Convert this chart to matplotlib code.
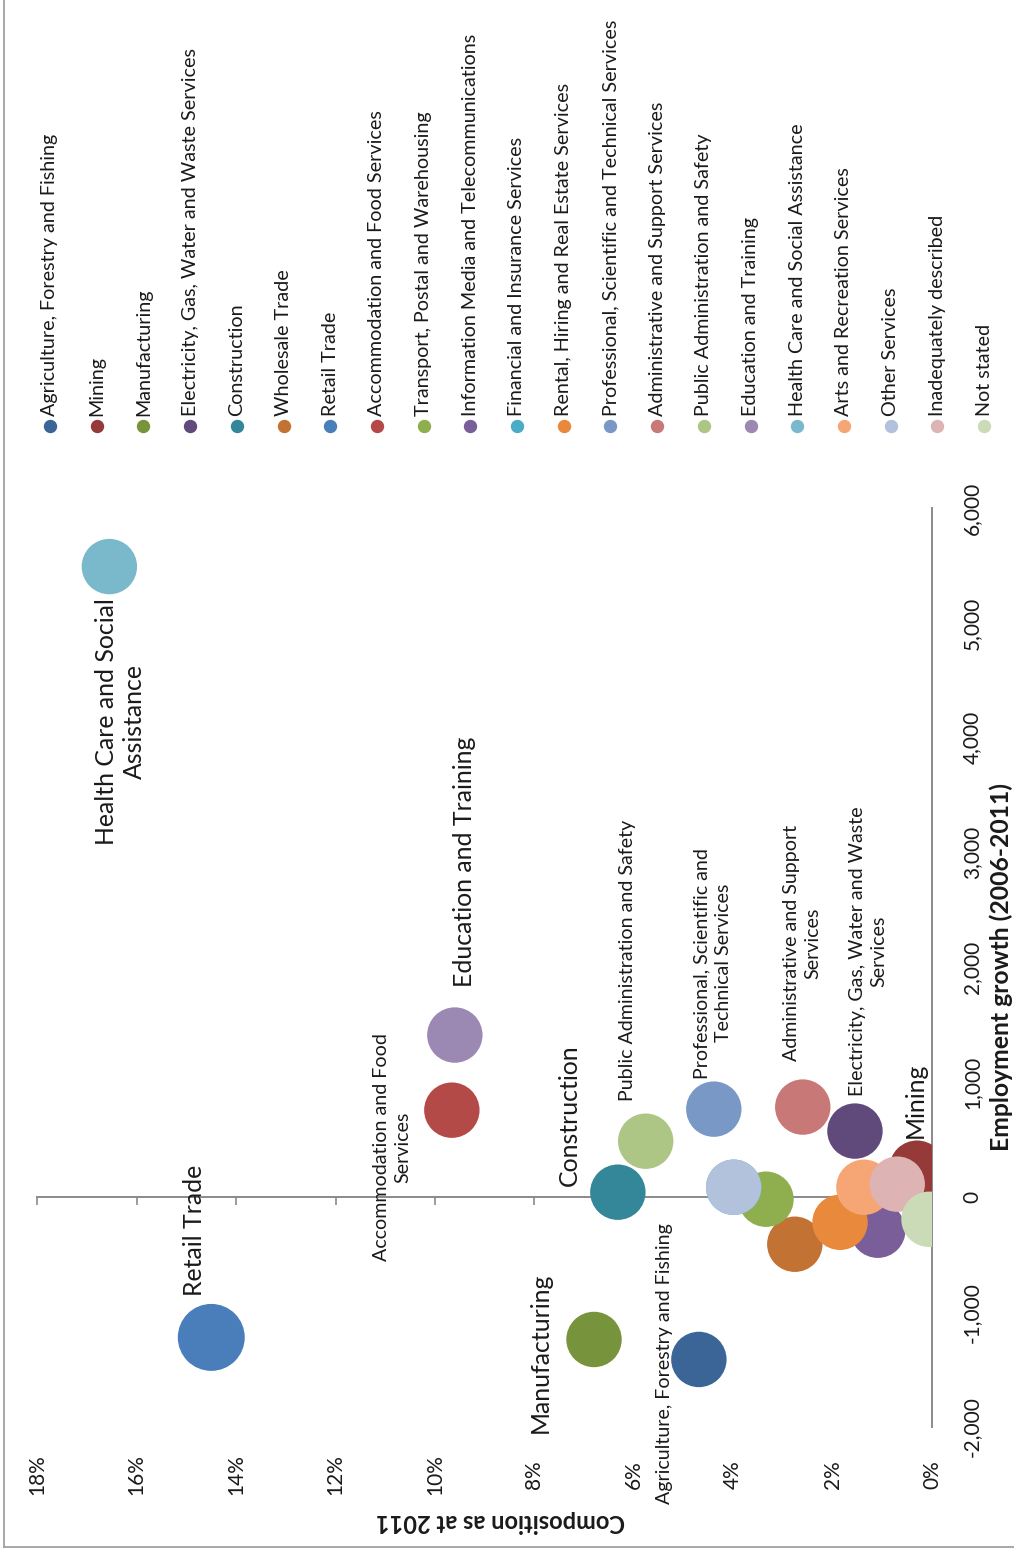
import matplotlib
matplotlib.use("Agg")
import matplotlib.pyplot as plt
import matplotlib.transforms as mtrans
from matplotlib.lines import Line2D

plt.rcParams['font.family'] = ['Lato', 'DejaVu Sans']

# ---------------- data ----------------
industries = [
    "Agriculture, Forestry and Fishing", "Mining", "Manufacturing",
    "Electricity, Gas, Water and Waste Services", "Construction",
    "Wholesale Trade", "Retail Trade", "Accommodation and Food Services",
    "Transport, Postal and Warehousing", "Information Media and Telecommunications",
    "Financial and Insurance Services", "Rental, Hiring and Real Estate Services",
    "Professional, Scientific and Technical Services",
    "Administrative and Support Services", "Public Administration and Safety",
    "Education and Training", "Health Care and Social Assistance",
    "Arts and Recreation Services", "Other Services", "Inadequately described",
    "Not stated",
]
composition = [4.69, 0.30, 6.80, 1.55, 6.32, 2.76, 14.50, 9.66, 3.34, 1.09,
               3.99, 1.85, 4.39, 2.60, 5.76, 9.60, 16.55, 1.37, 3.99, 0.70, 0.06]
growth = [-1412, 253, -1238, 576, 44, -409, -1220, 758, -17, -287,
          87, -218, 767, 785, 488, 1412, 5490, 87, 87, 114, -192]
bubble_size = [100, 100, 100, 100, 100, 100, 146, 100, 100, 100,
               100, 100, 100, 100, 100, 100, 100, 100, 100, 100, 100]
colors = ["#3A6596", "#953A38", "#77933C", "#604A7B", "#348699", "#C27232",
          "#4A7EBB", "#B44A47", "#8FAE4E", "#7A5E9A", "#4BACC6", "#E8893C",
          "#7A98C6", "#C87876", "#ADC585", "#9B89B3", "#7AB9CC", "#F6A674",
          "#B2C1DC", "#DDB3B3", "#CCDBB7"]

comp_ticks = [0, 2, 4, 6, 8, 10, 12, 14, 16, 18]
comp_labels = ["0%", "2%", "4%", "6%", "8%", "10%", "12%", "14%", "16%", "18%"]
growth_ticks = [-2000, -1000, 0, 1000, 2000, 3000, 4000, 5000, 6000]
growth_labels = ["-2,000", "-1,000", "0", "1,000", "2,000", "3,000", "4,000", "5,000", "6,000"]

x_title = "Composition as at 2011"
y_title = "Employment growth (2006-2011)"

# label text, style, offset (px right, px down) from bubble centre
bubble_labels = {
    16: ("Health Care and Social\nAssistance", "big", 11, 155),
    6: ("Retail Trade", "big", -17, -107),
    15: ("Education and Training", "big", 10, -173),
    7: ("Accommodation and Food\nServices", "small", -60, 37),
    4: ("Construction", "big", -48, -77),
    2: ("Manufacturing", "big", -54, 13),
    0: ("Agriculture, Forestry and Fishing", "small", -34, 4),
    14: ("Public Administration and Safety", "small", -18, -181),
    12: ("Professional, Scientific and\nTechnical Services", "small", -1, -146),
    13: ("Administrative and Support\nServices", "small", -1, -164),
    3: ("Electricity, Gas, Water and Waste\nServices", "small", 13, -180),
    1: ("Mining", "big", -2, -68),
}

# ---------------- figure ----------------
W, H = 1014, 1557
fig = plt.figure(figsize=(W / 100, H / 100), dpi=100)


def fx(px):
    return px / W


def fy(py):
    return 1 - py / H


ax_l, ax_r, ax_t, ax_b = 37.3, 932.0, 508.0, 1427.0
ax = fig.add_axes([fx(ax_l), fy(ax_b), (ax_r - ax_l) / W, (ax_b - ax_t) / H])
ax.set_xlim(18, 0)
ax.set_ylim(-2000, 6000)
ax.patch.set_alpha(0)

axis_grey = "#8A8A8A"
for s in ["left", "top"]:
    ax.spines[s].set_visible(False)
ax.spines["bottom"].set_position(("data", 0))
ax.spines["bottom"].set_color(axis_grey)
ax.spines["bottom"].set_linewidth(1.4)
ax.spines["right"].set_color(axis_grey)
ax.spines["right"].set_linewidth(1.4)
ax.set_xticks(comp_ticks)
ax.tick_params(axis="x", direction="out", length=6, width=1.2, color=axis_grey,
               labelbottom=False)
ax.set_yticks([])

# bubbles
base = 1592.0 / 100.0
for i in range(len(industries)):
    ax.scatter([composition[i]], [growth[i]], s=bubble_size[i] * base,
               color=colors[i], edgecolors="none", zorder=3 + i * 0.01)

# bubble labels
for i, (txt, style, dx, dy) in bubble_labels.items():
    ax.annotate(txt, xy=(composition[i], growth[i]), xytext=(dx, -dy),
                textcoords="offset pixels", rotation=90, ha="center",
                va="center", multialignment="center", linespacing=1.3,
                fontsize=17.9 if style == "big" else 14.1, color="#1A1A1A",
                zorder=10)

# tick labels
tr_x = mtrans.blended_transform_factory(ax.transData, fig.transFigure)
for t, lab in zip(comp_ticks, comp_labels):
    ax.text(t, fy(1475), lab, transform=tr_x, rotation=90, ha="center",
            va="center", fontsize=15, color="#1A1A1A")
tr_y = mtrans.blended_transform_factory(fig.transFigure, ax.transData)
for t, lab in zip(growth_ticks, growth_labels):
    ax.text(fx(972), t, lab, transform=tr_y, rotation=90, ha="center",
            va="center", fontsize=15, color="#1A1A1A")

# axis titles
fig.text(fx(500), fy(1522), x_title, rotation=180, ha="center", va="center",
         fontsize=17.0, fontweight="bold", color="#1A1A1A")
fig.text(fx(1001), fy(967), y_title, rotation=90, ha="center", va="center",
         fontsize=17.8, fontweight="bold", color="#1A1A1A")

# legend
for i, name in enumerate(industries):
    x = 50 + i * 46.7
    fig.add_artist(Line2D([fx(x)], [fy(426)], marker="o", markersize=8.6,
                          color=colors[i], linestyle="none",
                          transform=fig.transFigure))
    fig.text(fx(x), fy(416), name, rotation=90, ha="center", va="bottom",
             fontsize=14.2, color="#1A1A1A")

# outer frame
frame_c = "#A0A0A0"
fig.add_artist(Line2D([fx(4), fx(4)], [fy(-5), fy(1547)], color=frame_c, lw=1.3,
                      transform=fig.transFigure))
fig.add_artist(Line2D([fx(4), fx(W + 5)], [fy(1547), fy(1547)], color=frame_c,
                      lw=1.3, transform=fig.transFigure))

fig.savefig("out.png", dpi=100)
